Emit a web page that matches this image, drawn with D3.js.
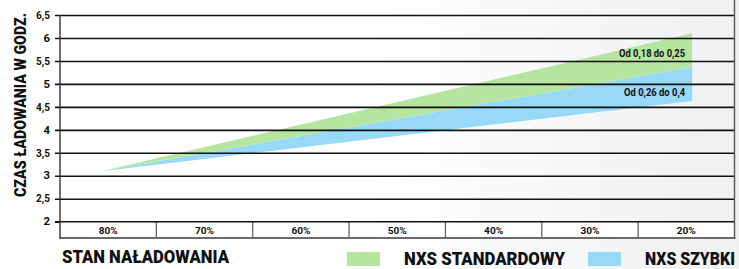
<!DOCTYPE html>
<html><head><meta charset="utf-8">
<script src="https://cdn.jsdelivr.net/npm/d3@7/dist/d3.min.js"></script>
<style>
html,body{margin:0;padding:0;background:#fff;}
svg{display:block;}
text{font-family:Roboto,"Liberation Sans",sans-serif;font-weight:bold;fill:#111;}
text.big{font-weight:900;}
</style></head>
<body><svg id="c" width="739" height="269"></svg>
<script>
const categories = ["80%","70%","60%","50%","40%","30%","20%"];
const yTicks = [2,2.5,3,3.5,4,4.5,5,5.5,6,6.5];
const socPoints = [80.7, 19.4];
const stdUpper = [3.1, 6.1];
const stdLower = [3.1, 5.37];
const fastUpper = [3.1, 5.37];
const fastLower = [3.1, 4.63];
const seriesNames = ["NXS STANDARDOWY","NXS SZYBKI"];
const seriesColors = ["#b6e5a0","#97d9f6"];
const rangeLabels = ["Od 0,18 do 0,25","Od 0,26 do 0,4"];

const svg = d3.select("#c");
const W = 739, H = 269;
const L = 60, R = 734.5, T = 15, B = 221.7, BandB = 238;

const defs = svg.append("defs");
const g = defs.append("linearGradient").attr("id","bg").attr("x1","0").attr("x2","1").attr("y1","0").attr("y2","0");
g.append("stop").attr("offset","0").attr("stop-color","#ffffff");
g.append("stop").attr("offset","0.5").attr("stop-color","#ffffff");
g.append("stop").attr("offset","1").attr("stop-color","#eef0f1");
svg.append("rect").attr("width",W).attr("height",H).attr("fill","url(#bg)");

const y = d3.scaleLinear().domain([2,6.5]).range([B,T]);
const xBand = d3.scaleBand().domain(categories).range([L,R]);
const xSoc = d3.scaleLinear().domain([85,15]).range([L,R]);

const fit = (sel, len) => sel.attr("textLength",len).attr("lengthAdjust","spacingAndGlyphs");

// areas
const pts = (up, lo) => socPoints.map((s,i)=>({s, u:up[i], l:lo[i]}));
const area = d3.area().x(d=>xSoc(d.s)).y0(d=>y(d.l)).y1(d=>y(d.u));
svg.append("path").datum(pts(stdUpper,stdLower)).attr("d",area).attr("fill",seriesColors[0]);
svg.append("path").datum(pts(fastUpper,fastLower)).attr("d",area).attr("fill",seriesColors[1]);

// grid via axis
const yAxis = d3.axisLeft(y).tickValues(yTicks).tickSize(-(R-L)).tickPadding(5)
  .tickFormat(d=>String(d).replace(".",","));
const ga = svg.append("g").attr("transform",`translate(${L},0)`).call(yAxis);
ga.select(".domain").remove();
ga.selectAll(".tick line").attr("stroke","#111").attr("stroke-width",1.6).attr("x1",-5);
ga.selectAll(".tick text").attr("x",-10).attr("font-size",10).attr("fill","#111")
  .style("font-family",'Roboto,sans-serif').style("font-weight","bold")
  .each(function(d){ const n=String(d).replace(".",",").length; d3.select(this).attr("textLength", n===1?6.5:14).attr("lengthAdjust","spacingAndGlyphs"); });

// range labels
const endS = socPoints[socPoints.length-1];
fit(svg.append("text").attr("x",xSoc(endS)-73).attr("y",57).attr("font-size",10.5).text(rangeLabels[0]),66);
fit(svg.append("text").attr("x",xSoc(endS)-68).attr("y",96).attr("font-size",10.5).text(rangeLabels[1]),61);

// category band
svg.append("rect").attr("x",L).attr("y",B).attr("width",R-L).attr("height",BandB-B).attr("fill","#fff");
const xAxis = d3.axisBottom(xBand).tickSize(0).tickPadding(0);
const gx = svg.append("g").attr("transform",`translate(0,${B})`).call(xAxis);
gx.select(".domain").remove();
gx.selectAll(".tick text").attr("dy",null).attr("y",12.5).attr("font-size",9.5).attr("fill","#111")
  .style("font-family",'Roboto,sans-serif').style("font-weight","bold")
  .attr("textLength",19).attr("lengthAdjust","spacingAndGlyphs");
svg.selectAll("line.sep").data(categories.slice(1)).enter().append("line").attr("class","sep")
  .attr("x1",d=>xBand(d)).attr("x2",d=>xBand(d)).attr("y1",B).attr("y2",BandB).attr("stroke","#666").attr("stroke-width",1.3);
svg.append("line").attr("x1",L).attr("x2",R+1).attr("y1",BandB).attr("y2",BandB).attr("stroke","#6a6a6a").attr("stroke-width",2);
svg.append("line").attr("x1",L-5).attr("x2",R).attr("y1",B).attr("y2",B).attr("stroke","#111").attr("stroke-width",1.6);

// frame lines
svg.append("line").attr("x1",L).attr("x2",L).attr("y1",T).attr("y2",BandB+1).attr("stroke","#333").attr("stroke-width",1.4);
svg.append("line").attr("x1",R).attr("x2",R).attr("y1",0).attr("y2",BandB+1).attr("stroke","#555").attr("stroke-width",1.4);

// axis titles
fit(svg.append("text").attr("class","big").attr("transform","translate(26,105) rotate(-90)").attr("x",-92).attr("font-size",16).text("CZAS ŁADOWANIA W GODZ."),184);
fit(svg.append("text").attr("class","big").attr("x",62).attr("y",263).attr("font-size",17.5).text("STAN NAŁADOWANIA"),167);

// legend
const leg = [{x:347,tx:404,w:161},{x:588,tx:645,w:90}];
leg.forEach((p,i)=>{
  svg.append("rect").attr("x",p.x).attr("y",252).attr("width",33).attr("height",14).attr("fill",seriesColors[i]);
  fit(svg.append("text").attr("class","big").attr("x",p.tx).attr("y",265).attr("font-size",17.5).text(seriesNames[i]),p.w);
});
</script></body></html>
